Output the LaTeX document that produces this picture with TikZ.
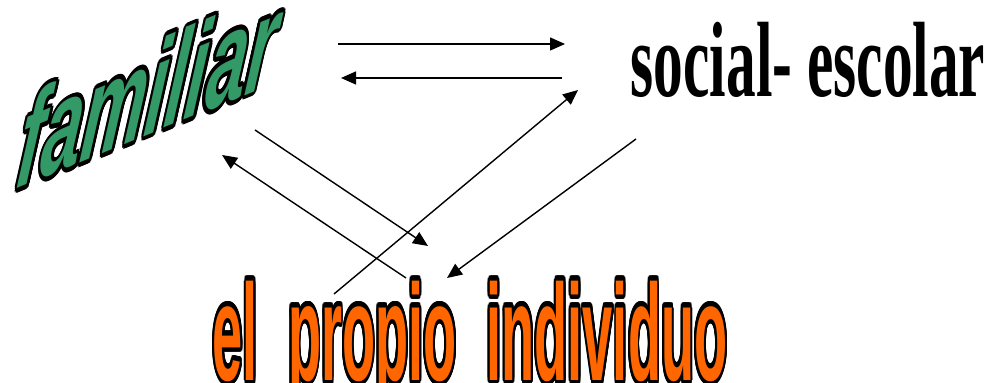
\documentclass[tikz,border=0pt]{standalone}
\usepackage{fontspec}
\usepackage{xcolor}
\usepackage{contour}
\usetikzlibrary{arrows.meta,positioning}

\newfontfamily\wordsans{Liberation Sans}
\newfontfamily\wordserif{Liberation Serif}
\definecolor{famgreen}{RGB}{51,153,102}
\definecolor{indorange}{RGB}{255,102,0}
\contourlength{0.7pt}

\begin{document}
\begin{tikzpicture}[
  x=0.01cm, y=-0.01cm,
  wordart/.style={inner sep=0pt, transform shape},
  arr/.style={-{Triangle[length=0.15cm, width=0.13cm]}, line width=0.4pt}
]
\useasboundingbox (0,0) rectangle (998,383);

% Familiar (slanted upwards)
\begin{scope}[shift={(14,190)}, cm={1,0.41,0.24,1.85,(0,0)}]
  \node[wordart, anchor=base west] (familiar) at (0,0)
    {\fontsize{20.5}{20.5}\selectfont\wordsans\bfseries\itshape
     \contour{black}{\textcolor{famgreen}{familiar}}};
\end{scope}

% Social- escolar
\begin{scope}[shift={(808,60)}, xscale=0.97, yscale=1.75]
  \node[wordart] (social) at (0,0)
    {\fontsize{17.4}{17.4}\selectfont\wordserif\bfseries social- escolar};
\end{scope}

% El propio individuo
\begin{scope}[shift={(470,347)}, xscale=0.77, yscale=1.95]
  \node[wordart] (individuo) at (0,0)
    {\fontsize{20}{20}\selectfont\wordsans\bfseries
     \contour[24]{black}{\textcolor{indorange}{el\ \ propio\ \ individuo}}};
\end{scope}

% Arrow ends
\coordinate (famsoc1) at (338,44);  \coordinate (famsoc2) at (565,44);
\coordinate (socfam1) at (562,78);  \coordinate (socfam2) at (341,78);
\coordinate (famind1) at (255,130); \coordinate (famind2) at (428,246);
\coordinate (indfam1) at (406,278); \coordinate (indfam2) at (222,155);
\coordinate (indsoc1) at (334,294); \coordinate (indsoc2) at (578,90);
\coordinate (socind1) at (636,139); \coordinate (socind2) at (447,278);

% Arrows
\draw[arr] (famsoc1) -- (famsoc2);
\draw[arr] (socfam1) -- (socfam2);
\draw[arr] (famind1) -- (famind2);
\draw[arr] (indfam1) -- (indfam2);
\draw[arr] (indsoc1) -- (indsoc2);
\draw[arr] (socind1) -- (socind2);

\end{tikzpicture}
\end{document}
